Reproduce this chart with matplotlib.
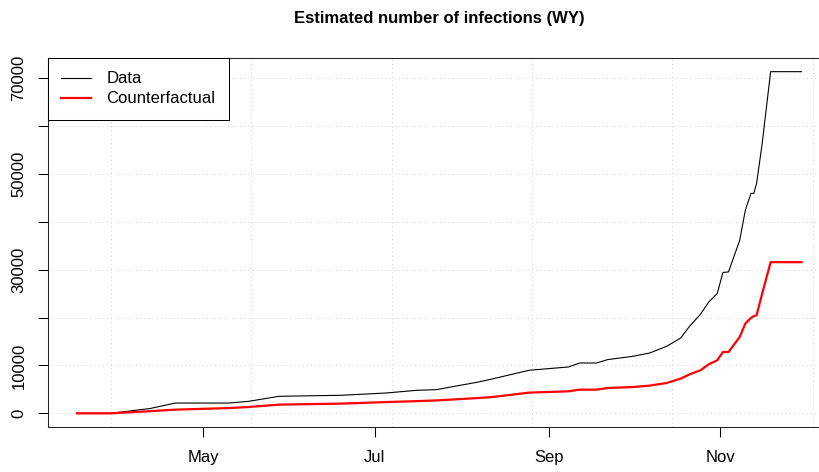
import matplotlib
matplotlib.use("Agg")
import matplotlib.pyplot as plt
import matplotlib.dates as mdates
import numpy as np
import pandas as pd

# values (cumulative infections, Wyoming 2020)
dates = ["2020-03-17", "2020-03-29", "2020-04-12", "2020-04-21", "2020-05-10",
         "2020-05-17", "2020-05-28", "2020-06-19", "2020-07-05", "2020-07-16",
         "2020-07-23", "2020-08-07", "2020-08-12", "2020-08-25", "2020-09-08",
         "2020-09-12", "2020-09-18", "2020-09-22", "2020-10-01", "2020-10-07",
         "2020-10-13", "2020-10-18", "2020-10-21", "2020-10-25", "2020-10-28",
         "2020-10-31", "2020-11-02", "2020-11-04", "2020-11-08", "2020-11-10",
         "2020-11-12", "2020-11-13", "2020-11-14", "2020-11-16", "2020-11-19",
         "2020-11-30"]
data = [0, 0, 1000, 2150, 2150,
        2500, 3560, 3770, 4250, 4810,
        4950, 6550, 7200, 9000, 9690,
        10520, 10520, 11230, 11920, 12620,
        14020, 15750, 18100, 20700, 23290,
        25040, 29430, 29560, 36190, 42470,
        45960, 45960, 48050, 56420, 71400,
        71400]
counterfactual = [0, 0, 450, 770, 1100,
                  1320, 1820, 2030, 2350, 2550,
                  2700, 3200, 3410, 4330, 4600,
                  4950, 4950, 5290, 5500, 5800,
                  6340, 7260, 8100, 9000, 10250,
                  11090, 12820, 12820, 15960, 18770,
                  19940, 20300, 20500, 25040, 31590,
                  31590]
yticks = [0, 10000, 20000, 30000, 40000, 50000, 60000, 70000]
ylabels = ["0", "10000", "", "30000", "", "50000", "", "70000"]

x = pd.to_datetime(dates)

plt.rcParams["font.family"] = ["Liberation Sans", "DejaVu Sans"]

W, H = 820, 472
fig = plt.figure(figsize=(W / 100, H / 100), dpi=100)
ax = fig.add_axes([48 / W, 45 / H, (830.5 - 48) / W, 369 / H])

ax.plot(x, data, color="black", lw=0.8, label="Data")
ax.plot(x, counterfactual, color="red", lw=1.6, label="Counterfactual")

# R-like 4% axis expansion
x0, x1 = mdates.date2num(x[0]), mdates.date2num(x[-1])
dx = 0.04 * (x1 - x0)
ax.set_xlim(x0 - dx, x1 + dx)
ymax = max(data)
ax.set_ylim(-0.04 * ymax, 1.04 * ymax)

# R-style grid (lightgray, dotted) at numeric 50-day steps
for g in np.arange(18350, 18601, 50):
    ax.axvline(g, color="lightgray", lw=0.75, ls=(0, (1, 3)), zorder=0)
for t in yticks:
    ax.axhline(t, color="lightgray", lw=0.75, ls=(0, (1, 3)), zorder=0)
ax.set_xlim(x0 - dx, x1 + dx)

ax.xaxis.set_major_locator(mdates.MonthLocator(bymonth=[5, 7, 9, 11]))
ax.xaxis.set_major_formatter(mdates.DateFormatter("%b"))
ax.set_yticks(yticks)
ax.set_yticklabels(ylabels, rotation=90, va="center")
ax.tick_params(axis="both", length=7.5, width=0.75, labelsize=12,
               colors="black")
ax.tick_params(axis="y", pad=8)
ax.tick_params(axis="x", pad=9)

for s in ax.spines.values():
    s.set_linewidth(0.75)
    s.set_color("#222222")

leg = ax.legend(loc="upper left", borderaxespad=0, fancybox=False,
                edgecolor="black", framealpha=1, fontsize=12,
                handlelength=1.8, handletextpad=0.9, labelspacing=0.3,
                borderpad=0.8)
leg.get_frame().set_linewidth(0.75)

fig.text((48 + 830.5) / 2 / W, 1 - 19 / H, "Estimated number of infections (WY)",
         ha="center", va="center", fontsize=12, fontweight="bold")

fig.savefig("out.png", dpi=100)
